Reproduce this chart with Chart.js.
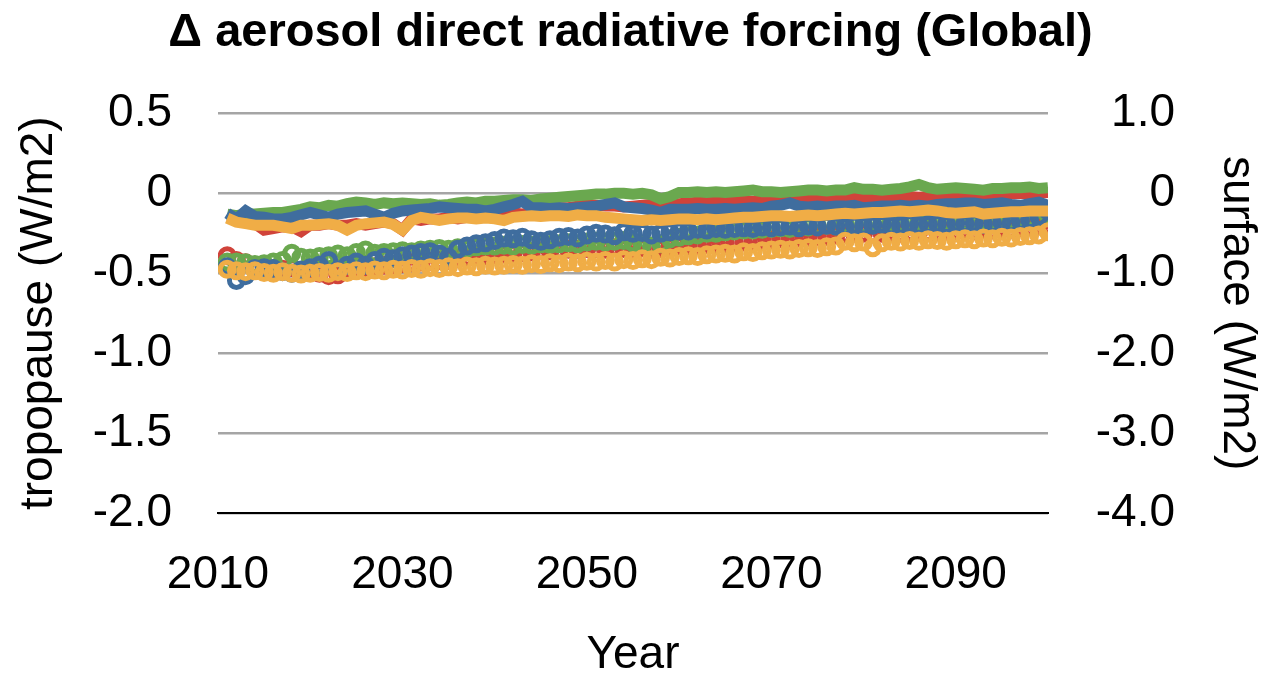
<!DOCTYPE html>
<html>
<head>
<meta charset="utf-8">
<title>Aerosol direct radiative forcing</title>
<script src="https://cdn.jsdelivr.net/npm/chart.js@4.4.1/dist/chart.umd.min.js"></script>
<style>
  html, body { margin: 0; padding: 0; background: #fff; }
  #wrap { width: 1261px; height: 674px; position: relative; }
</style>
</head>
<body>
<div id="wrap"><canvas id="chart"></canvas></div>
<script>
// years on the x axis
const years = [
  2011, 2012, 2013, 2014, 2015, 2016, 2017, 2018, 2019, 2020,
  2021, 2022, 2023, 2024, 2025, 2026, 2027, 2028, 2029, 2030,
  2031, 2032, 2033, 2034, 2035, 2036, 2037, 2038, 2039, 2040,
  2041, 2042, 2043, 2044, 2045, 2046, 2047, 2048, 2049, 2050,
  2051, 2052, 2053, 2054, 2055, 2056, 2057, 2058, 2059, 2060,
  2061, 2062, 2063, 2064, 2065, 2066, 2067, 2068, 2069, 2070,
  2071, 2072, 2073, 2074, 2075, 2076, 2077, 2078, 2079, 2080,
  2081, 2082, 2083, 2084, 2085, 2086, 2087, 2088, 2089, 2090,
  2091, 2092, 2093, 2094, 2095, 2096, 2097, 2098, 2099, 2100
];

// tropopause forcing (left axis, W/m2) - drawn as thick lines
const tropRed = [
  -0.15, -0.16, -0.17, -0.19, -0.23, -0.22, -0.21, -0.21, -0.24, -0.2,
  -0.2, -0.19, -0.2, -0.2, -0.19, -0.2, -0.19, -0.18, -0.19, -0.23,
  -0.16, -0.17, -0.16, -0.16, -0.15, -0.16, -0.15, -0.14, -0.15, -0.14,
  -0.13, -0.12, -0.13, -0.12, -0.11, -0.1, -0.09, -0.09, -0.08, -0.07,
  -0.075, -0.08, -0.08, -0.085, -0.08, -0.075, -0.07, -0.065, -0.07, -0.065,
  -0.06, -0.055, -0.05, -0.05, -0.055, -0.05, -0.045, -0.05, -0.045, -0.045,
  -0.04, -0.045, -0.04, -0.035, -0.04, -0.035, -0.035, -0.03, -0.03, -0.03,
  -0.03, -0.025, -0.03, -0.025, -0.02, -0.025, -0.02, -0.015, -0.02, -0.015,
  -0.01, -0.01, -0.015, -0.005, -0.01, -0.005, 0.0, -0.005, 0.0, 0.005
];
const tropGreen = [
  -0.13, -0.14, -0.13, -0.13, -0.125, -0.12, -0.12, -0.11, -0.1, -0.085,
  -0.09, -0.075, -0.08, -0.065, -0.055, -0.06, -0.07, -0.06, -0.065, -0.06,
  -0.065, -0.07, -0.065, -0.075, -0.07, -0.06, -0.055, -0.06, -0.05, -0.05,
  -0.045, -0.04, -0.04, -0.045, -0.035, -0.03, -0.025, -0.02, -0.015, -0.01,
  -0.005, -0.005, 0.0, 0.0, -0.005, 0.0, -0.01, -0.035, -0.02, 0.005,
  0.005, 0.01, 0.005, 0.01, 0.005, 0.01, 0.015, 0.02, 0.01, 0.01,
  0.005, 0.01, 0.015, 0.02, 0.02, 0.015, 0.02, 0.02, 0.035, 0.025,
  0.025, 0.02, 0.025, 0.03, 0.04, 0.055, 0.035, 0.025, 0.03, 0.035,
  0.03, 0.025, 0.02, 0.03, 0.03, 0.035, 0.035, 0.04, 0.03, 0.035
];
const tropBlue = [
  -0.125, -0.16, -0.11, -0.145, -0.15, -0.16, -0.16, -0.15, -0.135, -0.12,
  -0.135, -0.15, -0.13, -0.12, -0.115, -0.11, -0.13, -0.15, -0.125, -0.11,
  -0.105, -0.1, -0.095, -0.085, -0.09, -0.095, -0.1, -0.1, -0.11, -0.1,
  -0.085, -0.07, -0.05, -0.09, -0.09, -0.095, -0.09, -0.095, -0.09, -0.085,
  -0.08, -0.07, -0.06, -0.085, -0.09, -0.095, -0.105, -0.12, -0.1, -0.1,
  -0.1, -0.095, -0.1, -0.1, -0.095, -0.1, -0.095, -0.09, -0.095, -0.08,
  -0.075, -0.06, -0.08, -0.085, -0.08, -0.085, -0.08, -0.08, -0.075, -0.09,
  -0.085, -0.08, -0.08, -0.075, -0.08, -0.075, -0.08, -0.07, -0.065, -0.065,
  -0.06, -0.06, -0.07, -0.065, -0.06, -0.07, -0.075, -0.065, -0.055, -0.075
];
const tropYellow = [
  -0.155, -0.18, -0.19, -0.2, -0.2, -0.2, -0.21, -0.22, -0.2, -0.2,
  -0.195, -0.19, -0.2, -0.23, -0.2, -0.19, -0.185, -0.18, -0.195, -0.23,
  -0.17, -0.15, -0.16, -0.17, -0.16, -0.155, -0.155, -0.16, -0.155, -0.16,
  -0.17, -0.15, -0.145, -0.14, -0.145, -0.14, -0.14, -0.145, -0.135, -0.14,
  -0.14, -0.15, -0.155, -0.16, -0.165, -0.17, -0.165, -0.17, -0.165, -0.16,
  -0.16, -0.165, -0.16, -0.165, -0.16, -0.155, -0.15, -0.15, -0.145, -0.14,
  -0.14, -0.145, -0.14, -0.135, -0.14, -0.135, -0.13, -0.125, -0.13, -0.125,
  -0.12, -0.12, -0.115, -0.11, -0.115, -0.11, -0.105, -0.11, -0.12, -0.125,
  -0.12, -0.115, -0.13, -0.125, -0.12, -0.115, -0.115, -0.11, -0.11, -0.11
];

// surface forcing (right axis, W/m2) - drawn as open circles
const surfRed = [
  -0.78, -0.84, -0.87, -0.9, -0.92, -0.94, -0.95, -0.93, -0.97, -0.98,
  -1.0, -1.03, -1.02, -0.96, -0.95, -0.93, -0.92, -0.9, -0.9, -0.88,
  -0.87, -0.86, -0.85, -0.84, -0.84, -0.82, -0.8, -0.79, -0.78, -0.77,
  -0.76, -0.75, -0.74, -0.73, -0.72, -0.72, -0.71, -0.7, -0.7, -0.69,
  -0.69, -0.7, -0.68, -0.69, -0.7, -0.68, -0.7, -0.69, -0.67, -0.66,
  -0.66, -0.65, -0.64, -0.64, -0.63, -0.62, -0.61, -0.6, -0.6, -0.58,
  -0.57, -0.56, -0.56, -0.55, -0.54, -0.54, -0.52, -0.51, -0.5, -0.5,
  -0.51, -0.5, -0.49, -0.5, -0.49, -0.48, -0.49, -0.48, -0.47, -0.47,
  -0.46, -0.47, -0.45, -0.46, -0.44, -0.45, -0.43, -0.42, -0.41, -0.4
];
const surfGreen = [
  -0.86, -0.86, -0.87, -0.89, -0.88, -0.86, -0.84, -0.75, -0.8, -0.81,
  -0.79, -0.78, -0.76, -0.78, -0.74, -0.71, -0.75, -0.74, -0.73, -0.72,
  -0.73, -0.71, -0.7, -0.69, -0.7, -0.68, -0.69, -0.67, -0.66, -0.66,
  -0.65, -0.66, -0.64, -0.65, -0.63, -0.64, -0.63, -0.62, -0.63, -0.61,
  -0.6, -0.61, -0.6, -0.59, -0.62, -0.64, -0.66, -0.63, -0.57, -0.55,
  -0.53, -0.52, -0.5, -0.5, -0.48, -0.47, -0.46, -0.46, -0.45, -0.44,
  -0.43, -0.44, -0.42, -0.42, -0.41, -0.4, -0.41, -0.39, -0.38, -0.39,
  -0.37, -0.38, -0.36, -0.37, -0.36, -0.35, -0.36, -0.34, -0.35, -0.34,
  -0.35, -0.33, -0.34, -0.33, -0.32, -0.33, -0.31, -0.3, -0.29, -0.27
];
const surfBlue = [
  -0.92, -1.09, -1.03, -0.94, -0.93, -0.94, -0.98, -1.0, -0.96, -0.93,
  -0.9, -0.84, -0.96, -0.9, -0.86, -0.9, -0.84, -0.8, -0.82, -0.78,
  -0.76, -0.74, -0.73, -0.76, -0.8, -0.7, -0.66, -0.63, -0.62, -0.59,
  -0.56, -0.57, -0.55, -0.58, -0.6, -0.58, -0.55, -0.54, -0.56, -0.52,
  -0.5, -0.51, -0.53, -0.48, -0.5, -0.49, -0.52, -0.5, -0.48, -0.47,
  -0.47, -0.45, -0.46, -0.44, -0.45, -0.44, -0.43, -0.44, -0.42, -0.43,
  -0.42, -0.41, -0.43, -0.41, -0.42, -0.4, -0.41, -0.42, -0.4, -0.41,
  -0.4, -0.39, -0.41, -0.4, -0.38, -0.4, -0.39, -0.38, -0.39, -0.37,
  -0.38, -0.37, -0.39, -0.38, -0.36, -0.37, -0.35, -0.33, -0.29, -0.22
];
const surfYellow = [
  -0.95, -0.97, -0.98, -0.97, -0.99, -1.0, -0.98, -1.0, -1.01, -1.0,
  -0.99, -1.0, -0.98, -0.99, -0.97, -0.98, -0.96, -0.97, -0.95, -0.96,
  -0.94, -0.95, -0.93, -0.94, -0.92, -0.93, -0.91, -0.92, -0.9, -0.91,
  -0.9, -0.89, -0.9, -0.88, -0.89, -0.87, -0.88, -0.86, -0.87, -0.85,
  -0.86, -0.84, -0.86, -0.83, -0.84, -0.82, -0.83, -0.8, -0.81, -0.79,
  -0.78, -0.79, -0.77, -0.76, -0.75, -0.76, -0.73, -0.74, -0.72, -0.71,
  -0.7, -0.71, -0.69, -0.68, -0.69, -0.67, -0.66, -0.6, -0.62, -0.61,
  -0.68, -0.62, -0.6, -0.61, -0.59, -0.6, -0.58, -0.59, -0.6, -0.58,
  -0.57, -0.58, -0.56, -0.57, -0.55, -0.56, -0.54, -0.53, -0.52, -0.48
];

// axis tick values
const yearTicks = [2010, 2030, 2050, 2070, 2090];
const tropTicks = [0.5, 0, -0.5, -1.0, -1.5, -2.0];
const surfTicks = [1.0, 0, -1.0, -2.0, -3.0, -4.0];

// colours
const RED = '#d0433a';
const GREEN = '#6aa84f';
const BLUE = '#3f6d9e';
const YELLOW = '#f0ad46';

const FONT = '"Liberation Sans", Arial, Helvetica, sans-serif';
Chart.defaults.font.family = FONT;
Chart.defaults.color = '#000';

function pts(vals) {
  return vals.map((v, i) => ({ x: years[i], y: v }));
}

function tropLine(vals, color, order) {
  return {
    data: pts(vals),
    yAxisID: 'y',
    borderColor: color,
    backgroundColor: color,
    borderWidth: 11,
    pointRadius: 0,
    tension: 0,
    fill: false,
    order: order
  };
}

function surfDots(vals, color, order) {
  return {
    data: pts(vals),
    yAxisID: 'y2',
    showLine: false,
    borderColor: color,
    pointBorderColor: color,
    pointBackgroundColor: 'rgba(0,0,0,0)',
    pointRadius: 7,
    pointBorderWidth: 5,
    order: order
  };
}

function fmt(v) {
  return v === 0 ? '0' : v.toFixed(1);
}

function keepTicks(list) {
  return (scale) => {
    scale.ticks = list.map(v => ({ value: v }));
  };
}

new Chart(document.getElementById('chart'), {
  type: 'line',
  data: {
    datasets: [
      tropLine(tropYellow, YELLOW, 1),
      surfDots(surfYellow, YELLOW, 1),
      tropLine(tropBlue, BLUE, 2),
      surfDots(surfBlue, BLUE, 2),
      tropLine(tropGreen, GREEN, 3),
      surfDots(surfGreen, GREEN, 3),
      tropLine(tropRed, RED, 4),
      surfDots(surfRed, RED, 4)
    ]
  },
  options: {
    responsive: true,
    maintainAspectRatio: false,
    animation: false,
    layout: { padding: 0 },
    plugins: {
      legend: { display: false },
      tooltip: { enabled: false },
      title: {
        display: true,
        text: 'Δ aerosol direct radiative forcing (Global)',
        color: '#000',
        font: { size: 47, weight: 'bold', lineHeight: 1.2 },
        padding: { top: 5, bottom: 52 }
      }
    },
    scales: {
      x: {
        type: 'linear',
        min: 2010,
        max: 2100,
        afterBuildTicks: keepTicks(yearTicks),
        afterFit: (s) => { s.height = 161; },
        grid: { display: false, drawTicks: false },
        border: { display: true, color: '#000', width: 2 },
        ticks: {
          font: { size: 46 },
          padding: 35,
          maxRotation: 0,
          autoSkip: false,
          callback: (v) => String(v)
        },
        title: {
          display: true,
          text: 'Year',
          font: { size: 46, lineHeight: 1 },
          padding: { top: 0, bottom: -4 }
        }
      },
      y: {
        position: 'left',
        min: -2,
        max: 0.5,
        afterBuildTicks: keepTicks(tropTicks),
        afterFit: (s) => { s.width = 218; },
        grid: { color: '#a5a5a5', lineWidth: 2.5, drawTicks: false },
        border: { display: false },
        ticks: {
          font: { size: 46 },
          padding: 46,
          callback: fmt
        },
        title: {
          display: true,
          text: 'tropopause (W/m2)',
          font: { size: 46, lineHeight: 1 },
          padding: { top: 16, bottom: 0 }
        }
      },
      y2: {
        position: 'right',
        min: -4,
        max: 1,
        afterBuildTicks: keepTicks(surfTicks),
        afterFit: (s) => {
          s.width = 213;
          // the large label offset should not push the plot area down
          s.paddingTop = 0;
          s.paddingBottom = 0;
        },
        grid: { display: false, drawTicks: false },
        border: { display: false },
        // mirrored labels are right-aligned at left + padding (x = 1175)
        ticks: {
          font: { size: 46 },
          mirror: true,
          padding: 127,
          callback: fmt
        },
        title: {
          display: true,
          text: 'surface (W/m2)',
          font: { size: 46, lineHeight: 1 },
          padding: { top: 1, bottom: 0 }
        }
      }
    }
  }
});
</script>
</body>
</html>
